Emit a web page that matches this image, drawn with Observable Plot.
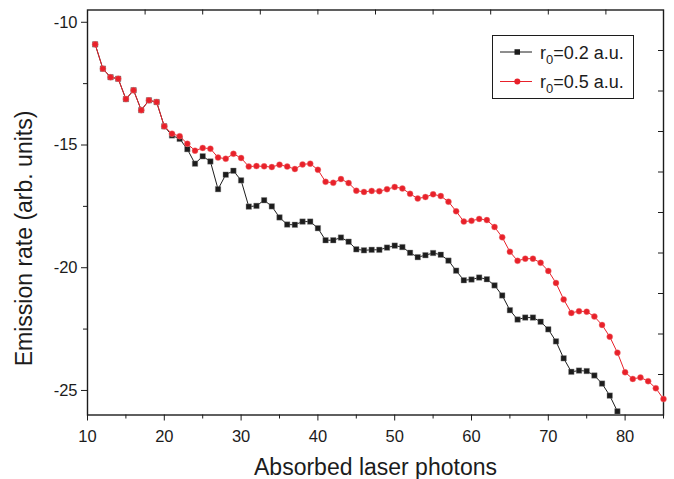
<!DOCTYPE html>
<html>
<head>
<meta charset="utf-8">
<script src="https://cdn.jsdelivr.net/npm/d3@7"></script>
<script src="https://cdn.jsdelivr.net/npm/@observablehq/plot@0.6"></script>
<style>
  html, body { margin: 0; padding: 0; background: #fff; }
  #wrap { position: relative; width: 674px; height: 479px; font-family: "Liberation Sans", Arial, sans-serif; }
  #legend { position: absolute; left: 0; top: 0; pointer-events: none; }
</style>
</head>
<body>
<div id="wrap"></div>
<script>
// ---- data ----
const photonsA = [11,12,13,14,15,16,17,18,19,20,21,22,23,24,25,26,27,28,29,30,31,32,33,34,35,36,37,38,39,40,41,42,43,44,45,46,47,48,49,50,51,52,53,54,55,56,57,58,59,60,61,62,63,64,65,66,67,68,69,70,71,72,73,74,75,76,77,78,79];
const rateA = [-10.90,-11.89,-12.24,-12.30,-13.13,-12.77,-13.58,-13.18,-13.25,-14.24,-14.61,-14.75,-15.17,-15.76,-15.46,-15.67,-16.80,-16.21,-16.05,-16.44,-17.51,-17.48,-17.25,-17.50,-17.95,-18.24,-18.25,-18.12,-18.12,-18.39,-18.88,-18.88,-18.77,-18.94,-19.25,-19.29,-19.27,-19.27,-19.18,-19.10,-19.16,-19.39,-19.57,-19.49,-19.40,-19.47,-19.71,-20.12,-20.51,-20.48,-20.40,-20.47,-20.72,-21.13,-21.73,-22.11,-22.03,-22.03,-22.20,-22.51,-23.00,-23.69,-24.24,-24.19,-24.21,-24.39,-24.72,-25.21,-25.85];
const photonsB = [11,12,13,14,15,16,17,18,19,20,21,22,23,24,25,26,27,28,29,30,31,32,33,34,35,36,37,38,39,40,41,42,43,44,45,46,47,48,49,50,51,52,53,54,55,56,57,58,59,60,61,62,63,64,65,66,67,68,69,70,71,72,73,74,75,76,77,78,79,80,81,82,83,84,85];
const rateB = [-10.90,-11.89,-12.24,-12.30,-13.13,-12.77,-13.58,-13.18,-13.25,-14.24,-14.54,-14.64,-14.95,-15.23,-15.12,-15.15,-15.51,-15.56,-15.36,-15.53,-15.88,-15.86,-15.87,-15.90,-15.80,-15.88,-15.98,-15.79,-15.76,-16.01,-16.50,-16.54,-16.39,-16.55,-16.86,-16.91,-16.87,-16.88,-16.80,-16.71,-16.77,-16.99,-17.18,-17.12,-17.01,-17.08,-17.31,-17.70,-18.12,-18.09,-18.01,-18.06,-18.34,-18.76,-19.35,-19.72,-19.63,-19.63,-19.80,-20.13,-20.62,-21.29,-21.84,-21.77,-21.79,-21.99,-22.33,-22.81,-23.46,-24.26,-24.53,-24.47,-24.62,-24.91,-25.35];
const seriesNames = ["0.2", "0.5"];
const xMajorTicks = [10,20,30,40,50,60,70,80];
const xMinorTicks = [15,25,35,45,55,65,75,85];
const yMajorTicks = [-10,-15,-20,-25];
const yMinorTicks = [-12.5,-17.5,-22.5];
const topTicks = [17.5,25,32.5,40,47.5,55,62.5,70,77.5];
const rightTicks = [-24.35,-22.7,-21.05,-19.4,-17.75,-16.1,-14.45,-12.8,-11.15];
const xTitle = "Absorbed laser photons";
const yTitle = "Emission rate (arb. units)";

const dataA = photonsA.map((x, i) => ({x, y: rateA[i]}));
const dataB = photonsB.map((x, i) => ({x, y: rateB[i]}));

const W = 674, H = 479;
const mL = 87, mR = 11, mT = 9.5, mB = 64.5;
const ink = "#1c1c1c", red = "#e8212a";
const font = "Liberation Sans, Arial, sans-serif";

const chart = Plot.plot({
  width: W, height: H,
  marginLeft: mL, marginRight: mR, marginTop: mT, marginBottom: mB,
  style: {fontFamily: font, color: ink, background: "#fff", overflow: "visible"},
  x: {domain: [10, 85]},
  y: {domain: [-26, -9.5]},
  marks: [
    Plot.axisX({ticks: xMajorTicks, tickSize: 6, tickPadding: 9, fontSize: 16.5, tickFormat: d => String(d), label: null, stroke: ink, fill: ink}),
    Plot.axisX({ticks: xMinorTicks, tickSize: 4, tickFormat: () => "", label: null, stroke: ink}),
    Plot.axisY({ticks: yMajorTicks, tickSize: 6, tickPadding: 4, fontSize: 16.5, tickFormat: d => String(d), label: null, stroke: ink, fill: ink}),
    Plot.axisY({ticks: yMinorTicks, tickSize: 4, tickFormat: () => "", label: null, stroke: ink}),
    Plot.tickX(topTicks, {x: d => d, stroke: ink, insetBottom: H - mT - mB - 5}),
    Plot.tickY(rightTicks, {y: d => d, stroke: ink, insetLeft: W - mL - mR - 5}),
    Plot.frame({stroke: ink, strokeWidth: 1.4}),
    Plot.line(dataA, {x: "x", y: "y", stroke: ink, strokeWidth: 1}),
    Plot.dot(dataA, {x: "x", y: "y", symbol: "square", fill: ink, r: 3.1, stroke: "#888", strokeWidth: 0.4}),
    Plot.line(dataB, {x: "x", y: "y", stroke: red, strokeWidth: 1}),
    Plot.dot(dataB, {x: "x", y: "y", symbol: "circle", fill: red, r: 3, stroke: "#f08080", strokeWidth: 0.4}),
    Plot.text([xTitle], {text: d => d, frameAnchor: "bottom", textAnchor: "middle", lineAnchor: "middle", dy: 53, fontSize: 23, fill: ink}),
    Plot.text([yTitle], {text: d => d, frameAnchor: "left", textAnchor: "middle", lineAnchor: "middle", dx: -63, dy: 26, rotate: -90, fontSize: 23, fill: ink})
  ]
});

const wrap = document.getElementById("wrap");
wrap.appendChild(chart);

// legend overlay
const leg = d3.select(wrap).append("svg")
  .attr("id", "legend").attr("width", W).attr("height", H)
  .style("font-family", font);
leg.append("rect").attr("x", 492.5).attr("y", 35.5).attr("width", 141).attr("height", 63)
  .attr("fill", "#fff").attr("stroke", ink).attr("stroke-width", 1);
const rows = [
  {name: seriesNames[0], color: ink, sym: "square", cy: 52},
  {name: seriesNames[1], color: red, sym: "circle", cy: 81.5}
];
rows.forEach(r => {
  leg.append("line").attr("x1", 500).attr("x2", 532).attr("y1", r.cy).attr("y2", r.cy)
    .attr("stroke", r.color).attr("stroke-width", 1);
  if (r.sym === "square") {
    leg.append("rect").attr("x", 514.5).attr("y", r.cy - 2.75).attr("width", 5.5).attr("height", 5.5).attr("fill", r.color);
  } else {
    leg.append("circle").attr("cx", 517.3).attr("cy", r.cy).attr("r", 3).attr("fill", r.color);
  }
  const t = leg.append("text").attr("x", 540).attr("y", r.cy + 6.5).attr("font-size", 18).attr("fill", ink);
  t.append("tspan").text("r");
  t.append("tspan").attr("font-size", 13).attr("dy", 5).text("0");
  t.append("tspan").attr("dy", -5).text("=" + r.name + " a.u.");
});
</script>
</body>
</html>
